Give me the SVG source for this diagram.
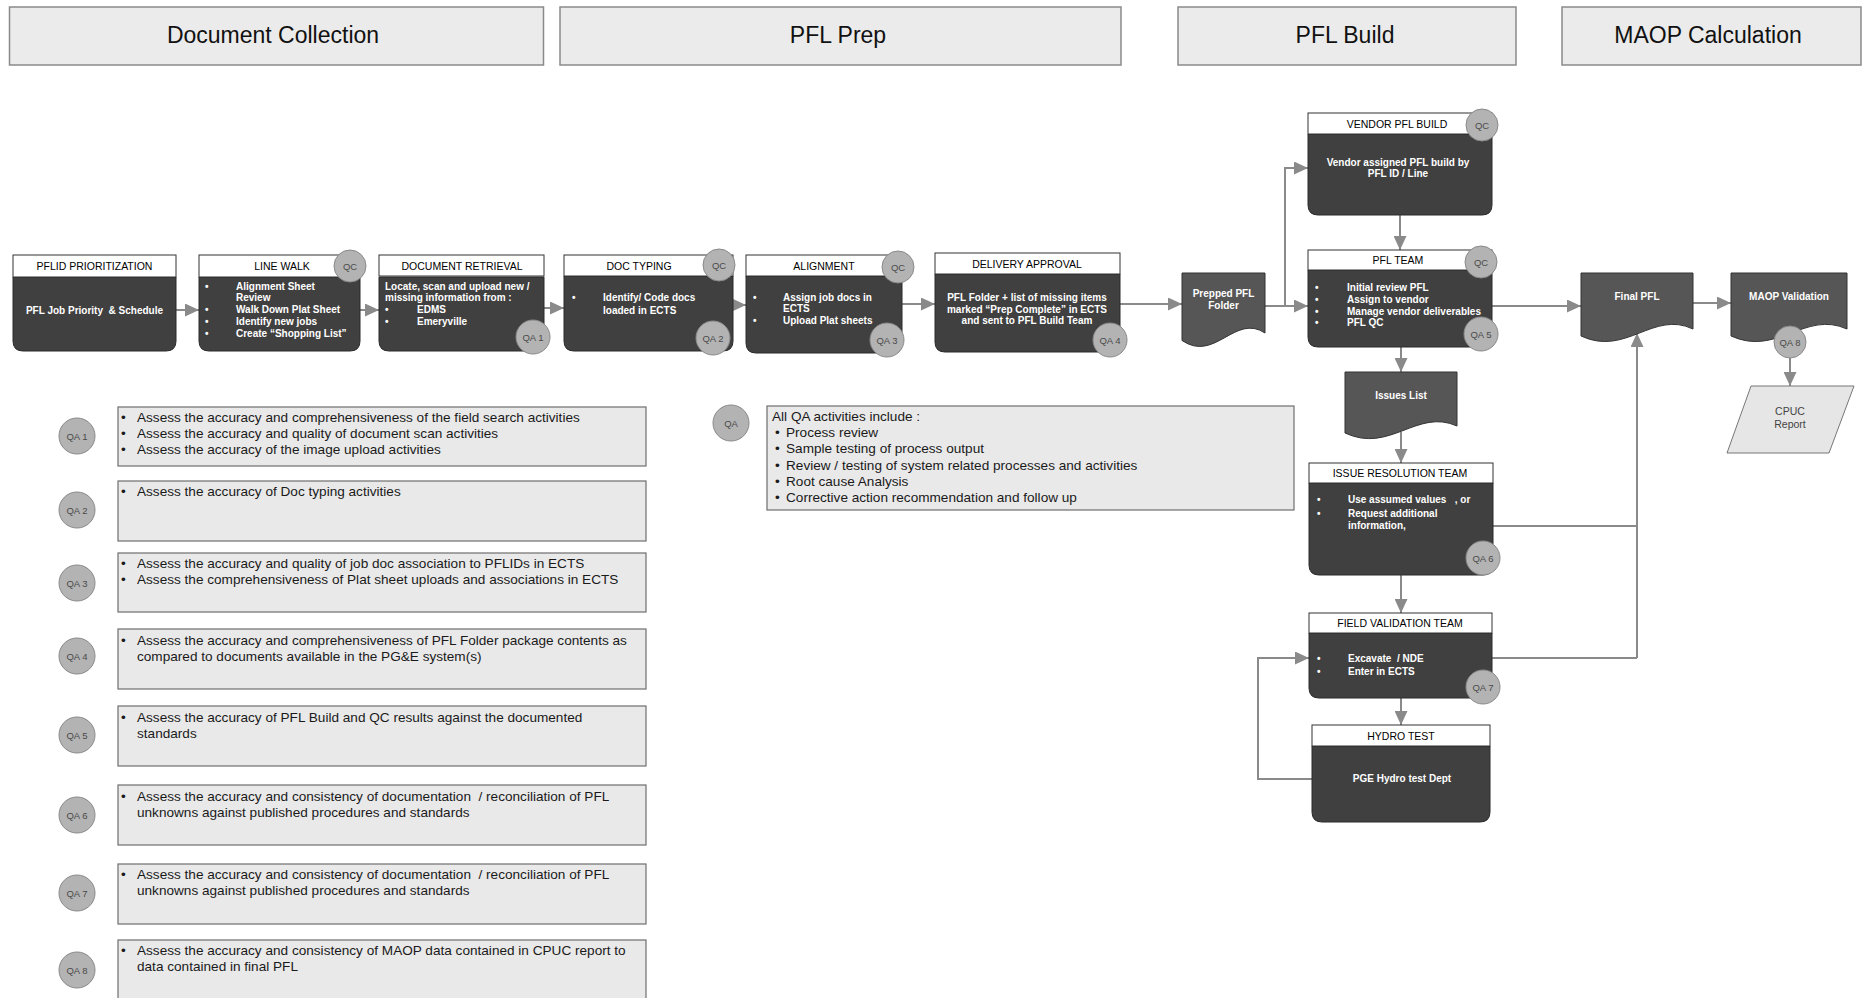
<svg xmlns="http://www.w3.org/2000/svg" width="1868" height="998" viewBox="0 0 1868 998">
<defs>
<marker id="arr" markerUnits="userSpaceOnUse" markerWidth="15" markerHeight="13" refX="14" refY="6.5" orient="auto">
<path d="M0,0 L14,6.5 L0,13 Z" fill="#8a8a8a"/>
</marker>
<style>
text{font-family:"Liberation Sans",Arial,sans-serif}
.hdr{fill:#ebebeb;stroke:#8a8a8a;stroke-width:1.5}
.hdrt{font-size:23px;fill:#111;text-anchor:middle}
.nb{fill:#404040;stroke:#2a2a2a;stroke-width:1}
.nh{fill:#fff;stroke:#333;stroke-width:1}
.nht{font-size:10.5px;fill:#000;text-anchor:middle}
.bt{font-size:10px;font-weight:bold;fill:#fff}
.btc{font-size:10px;font-weight:bold;fill:#fff;text-anchor:middle}
.doc{fill:#565656;stroke:#333;stroke-width:1}
.circ{fill:#b3b3b3;stroke:#8a8a8a;stroke-width:1}
.ct{font-size:9.5px;fill:#4a4a4a;text-anchor:middle}
.lg{fill:#e9e9e9;stroke:#6e6e6e;stroke-width:1.2}
.lt{font-size:13.6px;fill:#1a1a1a}
.conn{stroke:#8a8a8a;stroke-width:2;fill:none}
.para{fill:#e6e6e6;stroke:#777;stroke-width:1}
.pt{font-size:10.5px;fill:#444;text-anchor:middle}
</style>
</defs>
<rect width="1868" height="998" fill="#ffffff"/>

<g id="phases">
<g id="phase-doc-collection"><rect class="hdr" x="9.5" y="7" width="534" height="58"/><text class="hdrt" x="273" y="43">Document Collection</text></g>
<g id="phase-pfl-prep"><rect class="hdr" x="560" y="7" width="561" height="58"/><text class="hdrt" x="838" y="43">PFL Prep</text></g>
<g id="phase-pfl-build"><rect class="hdr" x="1178" y="7" width="338" height="58"/><text class="hdrt" x="1345" y="43">PFL Build</text></g>
<g id="phase-maop"><rect class="hdr" x="1562" y="7" width="299" height="58"/><text class="hdrt" x="1708" y="43">MAOP Calculation</text></g>
</g>

<g id="connectors">
<line class="conn" x1="176" y1="310" x2="199" y2="310" marker-end="url(#arr)"/>
<line class="conn" x1="360" y1="310" x2="379" y2="310" marker-end="url(#arr)"/>
<line class="conn" x1="544" y1="308" x2="564" y2="308" marker-end="url(#arr)"/>
<line class="conn" x1="733" y1="305" x2="746" y2="305" marker-end="url(#arr)"/>
<line class="conn" x1="902" y1="304" x2="935" y2="304" marker-end="url(#arr)"/>
<line class="conn" x1="1120" y1="304" x2="1182" y2="304" marker-end="url(#arr)"/>
<line class="conn" x1="1265" y1="306" x2="1308" y2="306" marker-end="url(#arr)"/>
<polyline class="conn" points="1285,306 1285,168 1308,168" marker-end="url(#arr)"/>
<line class="conn" x1="1400" y1="215" x2="1400" y2="250" marker-end="url(#arr)"/>
<line class="conn" x1="1492" y1="306" x2="1581" y2="306" marker-end="url(#arr)"/>
<line class="conn" x1="1693" y1="303" x2="1731" y2="303" marker-end="url(#arr)"/>
<line class="conn" x1="1790" y1="350" x2="1790" y2="386" marker-end="url(#arr)"/>
<line class="conn" x1="1401" y1="347" x2="1401" y2="372" marker-end="url(#arr)"/>
<line class="conn" x1="1401" y1="432" x2="1401" y2="463" marker-end="url(#arr)"/>
<line class="conn" x1="1401" y1="575" x2="1401" y2="613" marker-end="url(#arr)"/>
<line class="conn" x1="1401" y1="698" x2="1401" y2="725" marker-end="url(#arr)"/>
<polyline class="conn" points="1312,779 1258,779 1258,658 1309,658" marker-end="url(#arr)"/>
<polyline class="conn" points="1493,526 1637,526 1637,333" marker-end="url(#arr)"/>
<line class="conn" x1="1492" y1="658" x2="1637" y2="658"/>
<line class="conn" x1="1637" y1="658" x2="1637" y2="526"/>
</g>

<g id="pflid-prioritization">
<path class="nb" d="M13,277 H176 V341 Q176,351 166,351 H23 Q13,351 13,341 Z"/>
<rect class="nh" x="13" y="255" width="163" height="22"/>
<text class="nht" x="94.5" y="270">PFLID PRIORITIZATION</text>
<text class="btc" x="94.5" y="314" xml:space="preserve">PFL Job Priority  &amp; Schedule</text>
</g>

<g id="line-walk">
<path class="nb" d="M199,277 H360 V341 Q360,351 350,351 H209 Q199,351 199,341 Z"/>
<rect class="nh" x="199" y="255" width="161" height="22"/>
<text class="nht" x="282" y="270">LINE WALK</text>
<text class="bt" x="205" y="290">•</text><text class="bt" x="236" y="290">Alignment Sheet</text>
<text class="bt" x="236" y="301">Review</text>
<text class="bt" x="205" y="313">•</text><text class="bt" x="236" y="313">Walk Down Plat Sheet</text>
<text class="bt" x="205" y="325">•</text><text class="bt" x="236" y="325">Identify new jobs</text>
<text class="bt" x="205" y="337">•</text><text class="bt" x="236" y="337">Create “Shopping List”</text>
<circle class="circ" cx="350" cy="266" r="16"/><text class="ct" x="350" y="269.5">QC</text>
</g>

<g id="document-retrieval">
<path class="nb" d="M379,277 H544 V341 Q544,351 534,351 H389 Q379,351 379,341 Z"/>
<rect class="nh" x="379" y="255" width="165" height="21"/>
<text class="nht" x="462" y="269.5">DOCUMENT RETRIEVAL</text>
<text class="bt" x="385" y="290">Locate, scan and upload new /</text>
<text class="bt" x="385" y="301">missing information from :</text>
<text class="bt" x="385" y="313">•</text><text class="bt" x="417" y="313">EDMS</text>
<text class="bt" x="385" y="325">•</text><text class="bt" x="417" y="325">Emeryville</text>
<circle class="circ" cx="533" cy="337" r="17"/><text class="ct" x="533" y="340.5">QA 1</text>
</g>

<g id="doc-typing">
<path class="nb" d="M564,276 H733 V341 Q733,351 723,351 H574 Q564,351 564,341 Z"/>
<rect class="nh" x="564" y="255" width="169" height="21"/>
<text class="nht" x="639" y="269.5">DOC TYPING</text>
<text class="bt" x="572" y="301">•</text><text class="bt" x="603" y="301">Identify/ Code docs</text>
<text class="bt" x="603" y="314">loaded in ECTS</text>
<circle class="circ" cx="719" cy="265" r="16"/><text class="ct" x="719" y="268.5">QC</text>
<circle class="circ" cx="713" cy="338" r="17"/><text class="ct" x="713" y="341.5">QA 2</text>
</g>

<g id="alignment">
<path class="nb" d="M746,276 H902 V343 Q902,353 892,353 H756 Q746,353 746,343 Z"/>
<rect class="nh" x="746" y="255" width="156" height="21"/>
<text class="nht" x="824" y="269.5">ALIGNMENT</text>
<text class="bt" x="753" y="301">•</text><text class="bt" x="783" y="301">Assign job docs in</text>
<text class="bt" x="783" y="312">ECTS</text>
<text class="bt" x="753" y="324">•</text><text class="bt" x="783" y="324">Upload Plat sheets</text>
<circle class="circ" cx="898" cy="267" r="16"/><text class="ct" x="898" y="270.5">QC</text>
<circle class="circ" cx="887" cy="340" r="17"/><text class="ct" x="887" y="343.5">QA 3</text>
</g>

<g id="delivery-approval">
<path class="nb" d="M935,274 H1120 V342 Q1120,352 1110,352 H945 Q935,352 935,342 Z"/>
<rect class="nh" x="935" y="253" width="185" height="21"/>
<text class="nht" x="1027" y="267.5">DELIVERY APPROVAL</text>
<text class="btc" x="1027" y="301">PFL Folder + list of missing items</text>
<text class="btc" x="1027" y="313">marked “Prep Complete” in ECTS</text>
<text class="btc" x="1027" y="324">and sent to PFL Build Team</text>
<circle class="circ" cx="1110" cy="340" r="17"/><text class="ct" x="1110" y="343.5">QA 4</text>
</g>

<g id="prepped-pfl-folder">
<path class="doc" d="M1182,273 H1265 V333 C1235,313 1215,363 1182,340.5 Z"/>
<text class="btc" x="1223.5" y="297">Prepped PFL</text>
<text class="btc" x="1223.5" y="309">Folder</text>
</g>

<g id="vendor-pfl-build">
<path class="nb" d="M1308,134 H1492 V205 Q1492,215 1482,215 H1318 Q1308,215 1308,205 Z"/>
<rect class="nh" x="1308" y="113" width="184" height="21"/>
<text class="nht" x="1397" y="127.5">VENDOR PFL BUILD</text>
<text class="btc" x="1398" y="166">Vendor assigned PFL build by</text>
<text class="btc" x="1398" y="177">PFL ID / Line</text>
<circle class="circ" cx="1482" cy="125" r="16"/><text class="ct" x="1482" y="128.5">QC</text>
</g>

<g id="pfl-team">
<path class="nb" d="M1308,270 H1492 V337 Q1492,347 1482,347 H1318 Q1308,347 1308,337 Z"/>
<rect class="nh" x="1308" y="250" width="184" height="20"/>
<text class="nht" x="1398" y="264">PFL TEAM</text>
<text class="bt" x="1315" y="291">•</text><text class="bt" x="1347" y="291">Initial review PFL</text>
<text class="bt" x="1315" y="303">•</text><text class="bt" x="1347" y="303">Assign to vendor</text>
<text class="bt" x="1315" y="315">•</text><text class="bt" x="1347" y="315">Manage vendor deliverables</text>
<text class="bt" x="1315" y="326">•</text><text class="bt" x="1347" y="326">PFL QC</text>
<circle class="circ" cx="1481" cy="262" r="16"/><text class="ct" x="1481" y="265.5">QC</text>
<circle class="circ" cx="1481" cy="334" r="17"/><text class="ct" x="1481" y="337.5">QA 5</text>
</g>

<g id="issues-list">
<path class="doc" d="M1345,372 H1457 V426 C1417,408 1390,454 1345,433 Z"/>
<text class="btc" x="1401" y="399">Issues List</text>
</g>

<g id="issue-resolution-team">
<path class="nb" d="M1309,483 H1493 V565 Q1493,575 1483,575 H1319 Q1309,575 1309,565 Z"/>
<rect class="nh" x="1309" y="463" width="184" height="20"/>
<text class="nht" x="1400" y="477">ISSUE RESOLUTION TEAM</text>
<text class="bt" x="1317" y="503">•</text><text class="bt" x="1348" y="503" xml:space="preserve">Use assumed values   , or</text>
<text class="bt" x="1317" y="517">•</text><text class="bt" x="1348" y="517">Request additional</text>
<text class="bt" x="1348" y="529">information,</text>
<circle class="circ" cx="1483" cy="558" r="17"/><text class="ct" x="1483" y="561.5">QA 6</text>
</g>

<g id="field-validation-team">
<path class="nb" d="M1309,633 H1492 V688 Q1492,698 1482,698 H1319 Q1309,698 1309,688 Z"/>
<rect class="nh" x="1309" y="613" width="183" height="20"/>
<text class="nht" x="1400" y="627">FIELD VALIDATION TEAM</text>
<text class="bt" x="1317" y="662">•</text><text class="bt" x="1348" y="662" xml:space="preserve">Excavate  / NDE</text>
<text class="bt" x="1317" y="675">•</text><text class="bt" x="1348" y="675">Enter in ECTS</text>
<circle class="circ" cx="1483" cy="687" r="17"/><text class="ct" x="1483" y="690.5">QA 7</text>
</g>

<g id="hydro-test">
<path class="nb" d="M1312,746 H1490 V812 Q1490,822 1480,822 H1322 Q1312,822 1312,812 Z"/>
<rect class="nh" x="1312" y="725" width="178" height="21"/>
<text class="nht" x="1401" y="739.5">HYDRO TEST</text>
<text class="btc" x="1402" y="782">PGE Hydro test Dept</text>
</g>

<g id="final-pfl">
<path class="doc" d="M1581,273 H1693 V329 C1653,310 1626,357 1581,336 Z"/>
<text class="btc" x="1637" y="300">Final PFL</text>
</g>

<g id="maop-validation">
<path class="doc" d="M1731,273 H1847 V329 C1805,310 1777,357 1731,336 Z"/>
<text class="btc" x="1789" y="300">MAOP Validation</text>
<circle class="circ" cx="1790" cy="342" r="16"/><text class="ct" x="1790" y="345.5">QA 8</text>
</g>

<g id="cpuc-report">
<polygon class="para" points="1751,386 1854,386 1829,453 1727,453"/>
<text class="pt" x="1790" y="415">CPUC</text>
<text class="pt" x="1790" y="428">Report</text>
</g>

<g id="qa-all">
<circle class="circ" cx="731" cy="423" r="18"/><text class="ct" x="731" y="426.5">QA</text>
<rect class="lg" x="767" y="406" width="527" height="104"/>
<text class="lt" x="772" y="421">All QA activities include :</text>
<text class="lt" x="775" y="437">•</text><text class="lt" x="786" y="437">Process review</text>
<text class="lt" x="775" y="453">•</text><text class="lt" x="786" y="453">Sample testing of process output</text>
<text class="lt" x="775" y="470">•</text><text class="lt" x="786" y="470">Review / testing of system related processes and activities</text>
<text class="lt" x="775" y="486">•</text><text class="lt" x="786" y="486">Root cause Analysis</text>
<text class="lt" x="775" y="502">•</text><text class="lt" x="786" y="502">Corrective action recommendation and follow up</text>
</g>

<g id="qa1-legend">
<circle class="circ" cx="77" cy="436" r="18"/><text class="ct" x="77" y="439.5">QA 1</text>
<rect class="lg" x="118" y="407" width="528" height="59"/>
<text class="lt" x="121" y="422">•</text><text class="lt" x="137" y="422">Assess the accuracy and comprehensiveness of the field search activities</text>
<text class="lt" x="121" y="438">•</text><text class="lt" x="137" y="438">Assess the accuracy and quality of document scan activities</text>
<text class="lt" x="121" y="454">•</text><text class="lt" x="137" y="454">Assess the accuracy of the image upload activities</text>
</g>
<g id="qa2-legend">
<circle class="circ" cx="77" cy="510" r="18"/><text class="ct" x="77" y="513.5">QA 2</text>
<rect class="lg" x="118" y="481" width="528" height="60"/>
<text class="lt" x="121" y="496">•</text><text class="lt" x="137" y="496">Assess the accuracy of Doc typing activities</text>
</g>
<g id="qa3-legend">
<circle class="circ" cx="77" cy="583" r="18"/><text class="ct" x="77" y="586.5">QA 3</text>
<rect class="lg" x="118" y="553" width="528" height="59"/>
<text class="lt" x="121" y="568">•</text><text class="lt" x="137" y="568">Assess the accuracy and quality of job doc association to PFLIDs in ECTS</text>
<text class="lt" x="121" y="584">•</text><text class="lt" x="137" y="584">Assess the comprehensiveness of Plat sheet uploads and associations in ECTS</text>
</g>
<g id="qa4-legend">
<circle class="circ" cx="77" cy="656" r="18"/><text class="ct" x="77" y="659.5">QA 4</text>
<rect class="lg" x="118" y="629" width="528" height="60"/>
<text class="lt" x="121" y="645">•</text><text class="lt" x="137" y="645">Assess the accuracy and comprehensiveness of PFL Folder package contents as</text>
<text class="lt" x="137" y="661">compared to documents available in the PG&amp;E system(s)</text>
</g>
<g id="qa5-legend">
<circle class="circ" cx="77" cy="735" r="18"/><text class="ct" x="77" y="738.5">QA 5</text>
<rect class="lg" x="118" y="706" width="528" height="60"/>
<text class="lt" x="121" y="722">•</text><text class="lt" x="137" y="722">Assess the accuracy of PFL Build and QC results against the documented</text>
<text class="lt" x="137" y="738">standards</text>
</g>
<g id="qa6-legend">
<circle class="circ" cx="77" cy="815" r="18"/><text class="ct" x="77" y="818.5">QA 6</text>
<rect class="lg" x="118" y="785" width="528" height="60"/>
<text class="lt" x="121" y="801">•</text><text class="lt" x="137" y="801" xml:space="preserve">Assess the accuracy and consistency of documentation  / reconciliation of PFL</text>
<text class="lt" x="137" y="817">unknowns against published procedures and standards</text>
</g>
<g id="qa7-legend">
<circle class="circ" cx="77" cy="893" r="18"/><text class="ct" x="77" y="896.5">QA 7</text>
<rect class="lg" x="118" y="864" width="528" height="60"/>
<text class="lt" x="121" y="879">•</text><text class="lt" x="137" y="879" xml:space="preserve">Assess the accuracy and consistency of documentation  / reconciliation of PFL</text>
<text class="lt" x="137" y="895">unknowns against published procedures and standards</text>
</g>
<g id="qa8-legend">
<circle class="circ" cx="77" cy="970" r="18"/><text class="ct" x="77" y="973.5">QA 8</text>
<rect class="lg" x="118" y="940" width="528" height="70"/>
<text class="lt" x="121" y="955">•</text><text class="lt" x="137" y="955">Assess the accuracy and consistency of MAOP data contained in CPUC report to</text>
<text class="lt" x="137" y="971">data contained in final PFL</text>
</g>
</svg>
